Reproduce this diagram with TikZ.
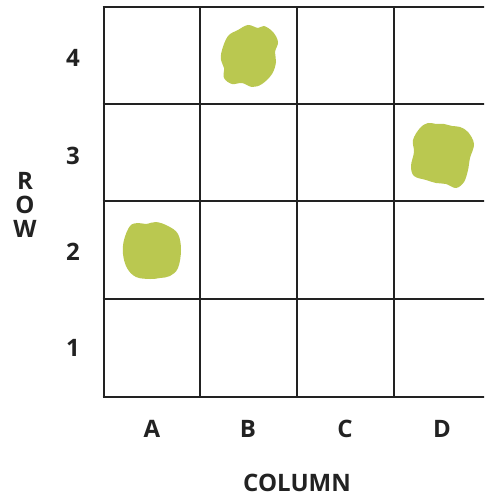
\documentclass[tikz,border=0pt]{standalone}
\usepackage{fontspec}
\setmainfont{Open Sans}
\definecolor{blob}{HTML}{BAC850}
\definecolor{gridc}{HTML}{222222}
\begin{document}
\begin{tikzpicture}[x=1pt,y=-1pt,
  lbl/.style={font=\fontsize{24}{24}\selectfont\bfseries, text=gridc, inner sep=0pt},
  gridline/.style={draw=gridc, line width=2pt},
  blobfill/.style={fill=blob, draw=none}]
\useasboundingbox (0,0) rectangle (484,497);
\fill[white] (0,0) rectangle (484,497);
\begin{scope}
\clip (0,0) rectangle (484,497);
% blobs
\path[blobfill] plot[smooth cycle, tension=0.6] coordinates {(222,50) (228,36) (238,30) (248,25) (258,28) (264,26) (273,32) (278,42) (275,52) (276,62) (272,74) (262,84) (252,87) (242,83) (232,84) (224,78) (224,68) (221,60)};
\path[blobfill] plot[smooth cycle, tension=0.6] coordinates {(413,140) (420,128) (428,123) (436,124) (444,124) (452,126) (460,127) (468,132) (474,144) (470,158) (468,170) (464,182) (456,188) (446,184) (436,183) (426,180) (414,176) (411,166) (414,152)};
\path[blobfill] plot[smooth cycle, tension=0.6] coordinates {(124,240) (130,226) (138,223) (146,224) (156,222) (168,226) (178,234) (181,250) (178,268) (170,276) (160,278) (150,279) (136,277) (127,268) (123,254)};
% grid
\foreach \x in {103.5,200,296.5,394,491} \draw[gridline] (\x,7) -- (\x,397);
\foreach \y in {7,104,201,299,397} \draw[gridline] (102.5,\y) -- (492,\y);
\end{scope}
% labels
\node[lbl] (r4) at (73,58) {4};
\node[lbl] (r3) at (73,156) {3};
\node[lbl] (r2) at (73,252) {2};
\node[lbl] (r1) at (73,348) {1};
\node[lbl] (rR) at (25,181) {R};
\node[lbl] (rO) at (25,205) {O};
\node[lbl] (rW) at (25,229) {W};
\node[lbl] (cA) at (152,429) {A};
\node[lbl] (cB) at (248,429) {B};
\node[lbl] (cC) at (345,429) {C};
\node[lbl] (cD) at (442,429) {D};
\node[lbl] (col) at (297,483) {COLUMN};
\end{tikzpicture}
\end{document}
